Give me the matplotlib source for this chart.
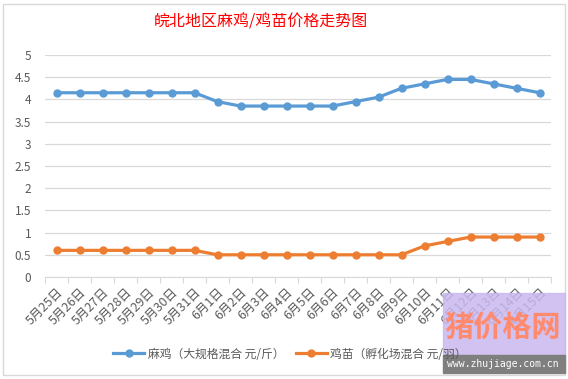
# Libraries import
import matplotlib
matplotlib.use('Agg')
import matplotlib.pyplot as plt
from matplotlib.patches import Rectangle

plt.rcParams['font.family'] = ['Noto Sans CJK SC', 'DejaVu Sans']

# Data
dates = ['5月25日', '5月26日', '5月27日', '5月28日', '5月29日', '5月30日', '5月31日',
         '6月1日', '6月2日', '6月3日', '6月4日', '6月5日', '6月6日', '6月7日',
         '6月8日', '6月9日', '6月10日', '6月11日', '6月12日', '6月13日', '6月14日', '6月15日']
maji = [4.15, 4.15, 4.15, 4.15, 4.15, 4.15, 4.15,
        3.95, 3.85, 3.85, 3.85, 3.85, 3.85, 3.95,
        4.05, 4.25, 4.35, 4.45, 4.45, 4.35, 4.25, 4.15]
jimiao = [0.6, 0.6, 0.6, 0.6, 0.6, 0.6, 0.6,
          0.5, 0.5, 0.5, 0.5, 0.5, 0.5, 0.5,
          0.5, 0.5, 0.7, 0.8, 0.9, 0.9, 0.9, 0.9]
label_maji = '麻鸡（大规格混合 元/斤）'
label_jimiao = '鸡苗（孵化场混合 元/羽）'

blue = '#5b9bd5'
orange = '#ed7d31'
grid_color = '#d9d9d9'
text_color = '#595959'

fig = plt.figure(figsize=(5.68, 3.79), dpi=100)
ax = fig.add_axes([45 / 568, 1 - 277 / 379, 506 / 568, 222 / 379])

x = list(range(len(dates)))
ax.plot(x, maji, color=blue, lw=2.3, marker='o', ms=5, label=label_maji)
ax.plot(x, jimiao, color=orange, lw=2.3, marker='o', ms=5, label=label_jimiao)

# Axes styling
ax.set_xlim(-0.5, len(dates) - 0.5)
ax.set_ylim(0, 5)
ax.set_yticks([i * 0.5 for i in range(11)])
ax.set_yticklabels(['0', '0.5', '1', '1.5', '2', '2.5', '3', '3.5', '4', '4.5', '5'])
ax.grid(axis='y', color=grid_color, lw=0.9)
ax.set_axisbelow(True)
for s in ['left', 'right', 'top']:
    ax.spines[s].set_visible(False)
ax.spines['bottom'].set_color(grid_color)
ax.tick_params(axis='y', length=0, labelsize=8.5, labelcolor=text_color, pad=10)

# Category ticks sit between categories, labels under each point
ax.set_xticks([i - 0.5 for i in range(len(dates) + 1)])
ax.set_xticklabels([])
ax.tick_params(axis='x', which='major', length=4, color=grid_color)
ax.set_xticks(x, minor=True)
ax.set_xticklabels(dates, minor=True, rotation=45, ha='right', va='top',
                   rotation_mode='anchor', fontsize=9, color=text_color)
ax.tick_params(axis='x', which='minor', length=0, pad=6)

# Title
fig.text(261 / 568, 1 - 22 / 379, '皖北地区麻鸡/鸡苗价格走势图', color='red',
         fontsize=11.5, ha='center', va='center')

# Legend
fig.legend(loc='center', bbox_to_anchor=(290 / 568, 1 - 354 / 379), ncol=2,
           frameon=False, fontsize=8.5, handlelength=2.6, columnspacing=1.0,
           handletextpad=0.3, labelcolor=text_color)

# Chart border
fig.patches.append(Rectangle((3 / 568, 4 / 379), 562 / 568, 371 / 379,
                             transform=fig.transFigure, fill=False,
                             edgecolor=grid_color, lw=1))

# Watermark in the lower right corner
fig.patches.append(Rectangle((443 / 568, 24 / 379), 122 / 568, 62 / 379,
                             transform=fig.transFigure, color='#c9b8f0', alpha=0.85,
                             zorder=5))
fig.patches.append(Rectangle((443 / 568, 6 / 379), 122 / 568, 18 / 379,
                             transform=fig.transFigure, color='#7f7f7f', zorder=5))
fig.text(503 / 568, 1 - 327 / 379, '猪价格网', color='#ff8a6e', fontsize=21,
         fontweight='bold', ha='center', va='center', zorder=6)
fig.text(503 / 568, 1 - 364 / 379, 'www.zhujiage.com.cn', color='white',
         family='DejaVu Sans Mono', fontsize=7, ha='center', va='center', zorder=6)

fig.savefig('out.png', dpi=100)
